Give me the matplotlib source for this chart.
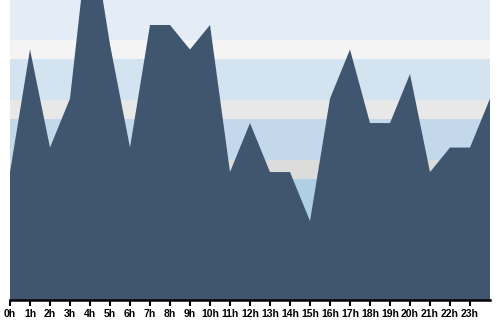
import numpy as np
import matplotlib
matplotlib.use("Agg")
import matplotlib.pyplot as plt

# hourly values, 0h..24h (last point has no label)
hours = list(range(25))
values = [5, 10, 6, 8, 15.3, 10.2, 6, 11, 11, 10, 11, 5, 7, 5, 5, 3,
          8, 10, 7, 7, 9, 5, 6, 6, 8]
tick_labels = ["%dh" % h for h in range(24)]

# background stripes (top px, bottom px, colour) in a 300px tall plot
stripes = [
    (0, 40, "#e4ecf5"), (40, 59, "#f4f4f4"),
    (59, 100, "#d3e3f0"), (100, 119, "#e8e8e8"),
    (119, 160, "#c3d9eb"), (160, 179, "#dcdcdc"),
    (179, 220, "#b0cfe6"), (220, 239, "#d2d2d2"),
    (239, 280, "#9ec4e0"), (280, 300, "#c8c8c8"),
]

fig = plt.figure(figsize=(5, 3.2), dpi=100)
ax = fig.add_axes([0.02, 20 / 320, 0.96, 300 / 320])

# stripes drawn in axes coords
for top, bot, col in stripes:
    ax.fill_between([0, 1], 1 - bot / 300, 1 - top / 300, color=col, lw=0,
                    transform=ax.transAxes, zorder=0)

ax.fill_between(hours, values, -1, color="#40566e", lw=0, zorder=2)

ax.set_xlim(0, 24)
ax.set_ylim(-0.22, 12.02)
ax.set_xticks(range(24))
ax.set_xticklabels(tick_labels, fontsize=7.5, fontweight="bold",
                   family=["Liberation Sans Narrow", "Liberation Sans"])
ax.set_yticks([])
for s in ["top", "left", "right"]:
    ax.spines[s].set_visible(False)
ax.spines["bottom"].set_linewidth(1.8)
ax.spines["bottom"].set_zorder(5)
ax.tick_params(axis="x", direction="out", length=4, width=1.5, pad=2.5,
               colors="black")

fig.savefig("out.png", dpi=100)
